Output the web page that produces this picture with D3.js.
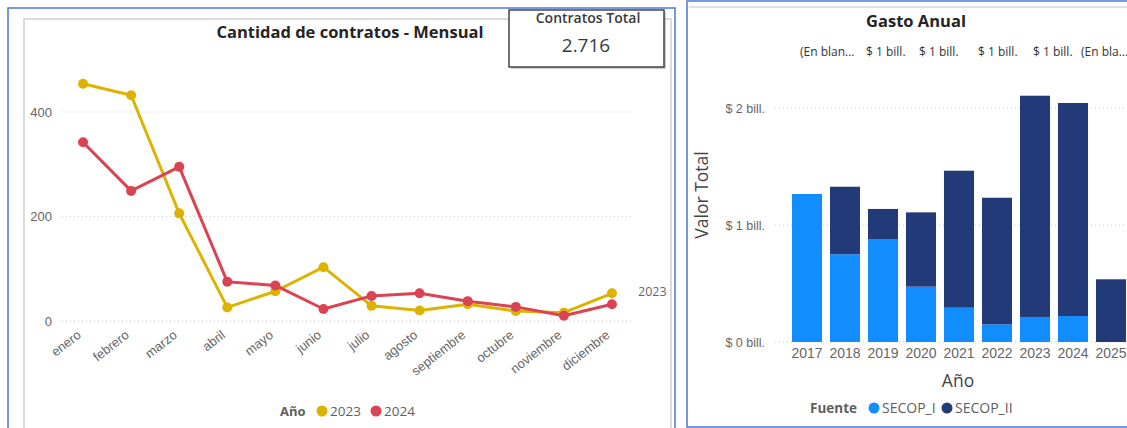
<!DOCTYPE html>
<meta charset="utf-8">
<style>
body { margin: 0; background: #fff; }
svg { font-family: "Open Sans", "Noto Sans", sans-serif; }
.grid line { stroke: #c8c8c8; stroke-dasharray: 1,3; }
.tick text { fill: #666; }
</style>
<svg width="1127" height="428"></svg>
<script src="https://d3js.org/d3.v7.min.js"></script>
<script>
// monthly contracts
var months = ["enero","febrero","marzo","abril","mayo","junio","julio","agosto","septiembre","octubre","noviembre","diciembre"];
var years = ["2023", "2024"];
var c2023 = [454, 432, 206, 26, 57, 103, 29, 20, 32, 19, 16, 53];
var c2024 = [342, 249, 295, 75, 68, 23, 48, 53, 38, 27, 10, 32];
var lineTicks = [0, 200, 400];
var totalContratos = "2.716";

// annual spend (bill.)
var anios = ["2017","2018","2019","2020","2021","2022","2023","2024","2025"];
var secopI  = [1.265, 0.75, 0.88, 0.473, 0.293, 0.151, 0.214, 0.222, 0];
var secopII = [0, 0.577, 0.257, 0.635, 1.171, 1.082, 1.891, 1.821, 0.536];
var fuentes = ["SECOP_I", "SECOP_II"];
var barTicks = [0, 1, 2];
var topLabels = ["(En blan…", "$ 1 bill.", "$ 1 bill.", "$ 1 bill.", "$ 1 bill.", "(En bla…"];

var svg = d3.select("svg");

// ---- panel frames
svg.append("rect").attr("x", 8).attr("y", 8).attr("width", 667).attr("height", 440)
    .attr("fill", "none").attr("stroke", "#4a78d0").attr("stroke-width", 1.5);
svg.append("path").attr("d", "M24,428V19H671V428")
    .attr("fill", "none").attr("stroke", "#d0d0d0").attr("stroke-width", 1.5);
svg.append("rect").attr("x", 687).attr("y", 1).attr("width", 460).attr("height", 426)
    .attr("fill", "none").attr("stroke", "#4a78d0").attr("stroke-width", 1.5);
svg.append("line").attr("x1", 689).attr("x2", 1127).attr("y1", 7).attr("y2", 7)
    .attr("stroke", "#d8d8d8").attr("stroke-width", 1.5);

// ---- line chart
var colorYear = d3.scaleOrdinal().domain(years).range(["#dcb300", "#db4352"]);
var x = d3.scaleBand().domain(months).range([59, 636]);
var y = d3.scaleLinear().domain([0, 400]).range([321, 112]);

var lg = svg.append("g");

lg.append("g").attr("class", "grid")
  .selectAll("line").data(lineTicks).enter().append("line")
    .attr("x1", 62).attr("x2", 633)
    .attr("y1", function(d) { return y(d); }).attr("y2", function(d) { return y(d); });

lg.append("g").attr("transform", "translate(59,0)")
    .call(d3.axisLeft(y).tickValues(lineTicks).tickSize(0).tickPadding(7))
    .call(function(g) { g.select(".domain").remove(); })
    .selectAll("text").attr("font-size", 13).attr("fill", "#777");

lg.append("g").attr("transform", "translate(0,321)")
    .call(d3.axisBottom(x).tickSize(0))
    .call(function(g) { g.select(".domain").remove(); })
    .selectAll("text")
    .attr("font-size", 13).attr("fill", "#777")
    .attr("text-anchor", "end")
    .attr("transform", "translate(-4,12) rotate(-38)")
    .attr("dy", "0.35em").attr("y", 0);

var series = [c2023, c2024];
var line = d3.line()
    .x(function(d, i) { return x(months[i]) + x.bandwidth() / 2; })
    .y(function(d) { return y(d); });

series.forEach(function(s, k) {
  var col = colorYear(years[k]);
  lg.append("path").datum(s)
      .attr("fill", "none").attr("stroke", col).attr("stroke-width", 3)
      .attr("stroke-linejoin", "round").attr("d", line);
  lg.selectAll(".pt" + k).data(s).enter().append("circle")
      .attr("cx", function(d, i) { return x(months[i]) + x.bandwidth() / 2; })
      .attr("cy", function(d) { return y(d); })
      .attr("r", 5).attr("fill", col);
});

lg.append("text").attr("x", 638).attr("y", y(c2023[11]) + 3)
    .attr("font-size", 12.5).attr("fill", "#666").text("2023");

lg.append("text").attr("x", 350).attr("y", 38).attr("text-anchor", "middle")
    .attr("font-size", 16.5).attr("font-weight", "bold").attr("fill", "#252423")
    .text("Cantidad de contratos - Mensual");

// legend
var leg = lg.append("g").attr("transform", "translate(280,411)");
leg.append("text").attr("x", 0).attr("y", 5).attr("font-size", 13)
    .attr("font-weight", "bold").attr("fill", "#605e5c").text("Año");
years.forEach(function(yr, i) {
  var gx = 42 + i * 54;
  leg.append("circle").attr("cx", gx).attr("cy", 0).attr("r", 5.5).attr("fill", colorYear(yr));
  leg.append("text").attr("x", gx + 8).attr("y", 5).attr("font-size", 13.5)
      .attr("fill", "#605e5c").text(yr);
});

// card
svg.append("rect").attr("x", 511).attr("y", 12).attr("width", 155).attr("height", 57)
    .attr("fill", "#999").attr("opacity", 0.5);
svg.append("rect").attr("x", 509).attr("y", 10).attr("width", 155).attr("height", 57)
    .attr("fill", "#fff").attr("stroke", "#444").attr("stroke-width", 1.5);
svg.append("text").attr("x", 588).attr("y", 23).attr("text-anchor", "middle")
    .attr("font-size", 14).attr("font-weight", 600).attr("fill", "#3a3a3a").text("Contratos Total");
svg.append("text").attr("x", 586).attr("y", 52).attr("text-anchor", "middle")
    .attr("font-size", 19).attr("fill", "#3a3a3a").text(totalContratos);

// ---- bar chart
var colorFuente = d3.scaleOrdinal().domain(fuentes).range(["#118dff", "#233a78"]);
var xb = d3.scaleBand().domain(anios).range([788, 1130]).paddingInner(0.21).paddingOuter(0.105);
var yb = d3.scaleLinear().domain([0, 2]).range([342, 108]);

var bg = svg.append("g");

bg.append("g").attr("class", "grid")
  .selectAll("line").data(barTicks).enter().append("line")
    .attr("x1", 775).attr("x2", 1127)
    .attr("y1", function(d) { return yb(d); }).attr("y2", function(d) { return yb(d); });

bg.append("g").attr("transform", "translate(771,0)")
    .call(d3.axisLeft(yb).tickValues(barTicks).tickSize(0).tickPadding(6)
      .tickFormat(function(d) { return "$ " + d + " bill."; }))
    .call(function(g) { g.select(".domain").remove(); })
    .selectAll("text").attr("font-size", 12.5).attr("fill", "#777");

var stackData = anios.map(function(a, i) { return { anio: a, SECOP_I: secopI[i], SECOP_II: secopII[i] }; });
var stacked = d3.stack().keys(fuentes)(stackData);

bg.selectAll(".layer").data(stacked).enter().append("g")
    .attr("fill", function(d) { return colorFuente(d.key); })
  .selectAll("rect").data(function(d) { return d; }).enter().append("rect")
    .attr("x", function(d) { return xb(d.data.anio); })
    .attr("width", xb.bandwidth())
    .attr("y", function(d) { return yb(d[1]); })
    .attr("height", function(d) { return yb(d[0]) - yb(d[1]); });

bg.append("g").attr("transform", "translate(0,342)")
    .call(d3.axisBottom(xb).tickSize(0).tickPadding(6))
    .call(function(g) { g.select(".domain").remove(); })
    .selectAll("text").attr("font-size", 14).attr("fill", "#666");

bg.append("text").attr("x", 916).attr("y", 27).attr("text-anchor", "middle")
    .attr("font-size", 16.5).attr("font-weight", "bold").attr("fill", "#252423").text("Gasto Anual");

var topX = [800, 866, 919, 978, 1033, 1081];
topLabels.forEach(function(t, i) {
  bg.append("text").attr("x", topX[i]).attr("y", 56).attr("font-size", 12)
      .attr("fill", "#333").text(t);
});

bg.append("text").attr("transform", "translate(708,195) rotate(-90)")
    .attr("text-anchor", "middle").attr("font-size", 17.5).attr("fill", "#444").text("Valor Total");
bg.append("text").attr("x", 958).attr("y", 387).attr("text-anchor", "middle")
    .attr("font-size", 17.5).attr("fill", "#444").text("Año");

var lb = bg.append("g").attr("transform", "translate(810,408)");
lb.append("text").attr("x", 0).attr("y", 5).attr("font-size", 13.5)
    .attr("font-weight", "bold").attr("fill", "#605e5c").text("Fuente");
fuentes.forEach(function(f, i) {
  var gx = 64 + i * 73;
  lb.append("circle").attr("cx", gx).attr("cy", 0).attr("r", 5.5).attr("fill", colorFuente(f));
  lb.append("text").attr("x", gx + 8).attr("y", 5).attr("font-size", 14)
      .attr("fill", "#605e5c").text(f);
});
</script>
